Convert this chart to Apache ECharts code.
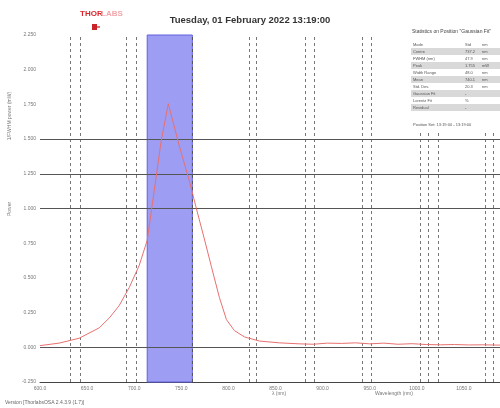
<!DOCTYPE html>
<html>
<head>
<meta charset="utf-8">
<script src="https://cdn.jsdelivr.net/npm/echarts@6/dist/echarts.min.js"></script>
<style>html,body{margin:0;padding:0;background:#fff}#c{width:500px;height:408px}</style>
</head>
<body>
<div id="c"></div>
<script>
// ---- data ----
const titleText = 'Tuesday, 01 February 2022 13:19:00';
const wavelength = [600, 620.2, 641.5, 662.8, 673.4, 684, 694.7, 705.3, 713.8, 721.3, 728.7, 736.2, 747.9, 758.5, 766, 774.5, 782, 790.4, 797.9, 806.4, 817, 833, 854, 875, 890, 905, 920, 935, 950, 965, 980, 995, 1010, 1025, 1040, 1055, 1070, 1085, 1100];
const power = [0.012, 0.03, 0.065, 0.14, 0.21, 0.30, 0.43, 0.59, 0.77, 1.13, 1.49, 1.755, 1.45, 1.2, 1.0, 0.78, 0.58, 0.36, 0.2, 0.12, 0.075, 0.045, 0.032, 0.025, 0.022, 0.03, 0.028, 0.032, 0.025, 0.03, 0.022, 0.026, 0.02, 0.018, 0.02, 0.017, 0.018, 0.016, 0.016];
const markerLines = [631.9, 642.6, 691.5, 702.1, 822.3, 829.8, 881.9, 891.5, 942.6, 952.1, 1003.2, 1011.7, 1022.3, 1072.3, 1080.9];
const fwhmBand = [713.8, 761.7];
const levelLines = [1.0, 1.25, 1.5, 0];
const statLabels = ['Mode', 'Centre', 'FWHM (nm)', 'Peak', 'Width Range', 'Mean', 'Std. Dev.', 'Gaussian Fit', 'Lorentz Fit', 'Residual'];
const statValues1 = ['Std', '737.2', '47.9', '1.755', '48.0', '740.1', '20.3', '-', '%', '-'];
const statValues2 = ['nm', 'nm', 'nm', 'mW', 'nm', 'nm', 'nm', '', '', ''];

const chart = echarts.init(document.getElementById('c'), null, {renderer: 'canvas'});

const gfx = [];
// logo
gfx.push({type: 'text', left: 80, top: 10, style: {text: 'THOR', font: 'bold 8px Liberation Sans', fill: '#d8262c'}});
gfx.push({type: 'text', left: 101, top: 10, style: {text: 'LABS', font: 'bold 8px Liberation Sans', fill: '#f2a6aa'}});
gfx.push({type: 'rect', left: 92, top: 24, shape: {width: 5, height: 6}, style: {fill: '#c8242a'}});
gfx.push({type: 'rect', left: 97, top: 26, shape: {width: 3, height: 2}, style: {fill: '#e07070'}});
// y axis names
gfx.push({type: 'text', x: 10, y: 116, rotation: Math.PI / 2, style: {text: '1/FWHM power (mW)', font: '5px Liberation Sans', fill: '#777', align: 'center', verticalAlign: 'middle'}});
gfx.push({type: 'text', x: 10, y: 209, rotation: Math.PI / 2, style: {text: 'Power', font: '5px Liberation Sans', fill: '#777', align: 'center', verticalAlign: 'middle'}});
// x axis names
gfx.push({type: 'text', x: 279, y: 394, style: {text: 'λ (nm)', font: '5px Liberation Sans', fill: '#777', align: 'center', verticalAlign: 'middle'}});
gfx.push({type: 'text', x: 394, y: 394, style: {text: 'Wavelength (nm)', font: '5px Liberation Sans', fill: '#777', align: 'center', verticalAlign: 'middle'}});
// version
gfx.push({type: 'text', left: 5, top: 400, style: {text: 'Version [ThorlabsOSA 2.4.3.9 (1.7)]', font: '5px Liberation Sans', fill: '#666'}});
// stats table (white panel over the plot)
gfx.push({type: 'rect', left: 408, top: 22, z: 100, shape: {width: 92, height: 110}, style: {fill: '#fff'}});
gfx.push({type: 'text', left: 412, top: 29, z: 101, style: {text: 'Statistics on Position "Gaussian Fit"', font: '5px Liberation Sans', fill: '#444'}});
statLabels.forEach((l, i) => {
  const y = 41 + i * 7;
  if (i % 2 === 1) gfx.push({type: 'rect', left: 411, top: y, z: 101, shape: {width: 90, height: 7}, style: {fill: '#d9d9d9'}});
  gfx.push({type: 'text', left: 413, top: y + 1.5, z: 102, style: {text: l, font: '4px Liberation Sans', fill: '#555'}});
  gfx.push({type: 'text', left: 465, top: y + 1.5, z: 102, style: {text: statValues1[i], font: '4px Liberation Sans', fill: '#555'}});
  gfx.push({type: 'text', left: 482, top: y + 1.5, z: 102, style: {text: statValues2[i], font: '4px Liberation Sans', fill: '#555'}});
});
gfx.push({type: 'text', left: 413, top: 123, z: 102, style: {text: 'Position Set: 13:19:00 - 13:19:00', font: '4px Liberation Sans', fill: '#555'}});

chart.setOption({
  animation: false,
  backgroundColor: '#fff',
  title: {text: titleText, left: 'center', top: 10, textStyle: {fontSize: 9.5, fontWeight: 'bold', color: '#333', fontFamily: 'Liberation Sans'}},
  grid: {left: 40, right: -11, top: 35, bottom: 26, outerBoundsMode: 'none', containLabel: false},
  xAxis: {
    type: 'value', min: 600, max: 1100, interval: 50,
    axisLine: {onZero: false, lineStyle: {color: '#444', width: 1}},
    axisTick: {show: false},
    splitLine: {show: false},
    axisLabel: {fontSize: 5, color: '#777', margin: 4, formatter: v => v.toFixed(1)}
  },
  yAxis: {
    type: 'value', min: -0.25, max: 2.25, interval: 0.25,
    axisLine: {show: false}, axisTick: {show: false}, splitLine: {show: false},
    axisLabel: {fontSize: 5, color: '#777', margin: 4, formatter: v => v.toFixed(3)}
  },
  series: [{
    type: 'line', data: wavelength.map((w, i) => [w, power[i]]),
    showSymbol: false, smooth: false,
    lineStyle: {color: '#e87070', width: 1},
    z: 5,
    markArea: {
      silent: true,
      itemStyle: {color: '#9d9df3', borderColor: '#6060e0', borderWidth: 1},
      data: [[{xAxis: fwhmBand[0]}, {xAxis: fwhmBand[1]}]]
    },
    markLine: {
      silent: true, symbol: 'none', label: {show: false},
      lineStyle: {color: '#777', type: [3, 3], width: 1},
      data: markerLines.map(x => ({xAxis: x})).concat(
        [{xAxis: fwhmBand[1], lineStyle: {color: '#555', type: [3, 3]}}],
        levelLines.map(y => ({yAxis: y, lineStyle: {color: '#555', type: 'solid', width: 1}})))
    }
  }],
  graphic: gfx
});
</script>
</body>
</html>
